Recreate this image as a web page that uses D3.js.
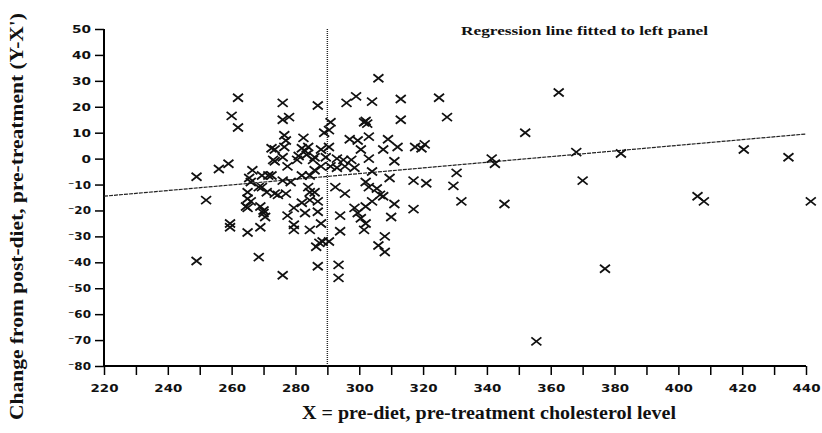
<!DOCTYPE html>
<html>
<head>
<meta charset="utf-8">
<script src="https://cdn.jsdelivr.net/npm/d3@7"></script>
<style>
  body { margin: 0; background: #fff; }
  svg { display: block; }
  .tick-label { font-family: "DejaVu Sans", sans-serif; font-weight: bold; font-size: 11px; fill: #111; }
  .title { font-family: "Liberation Serif", "Times New Roman", serif; font-weight: bold; fill: #111; }
</style>
</head>
<body>
<svg width="822" height="433"></svg>
<script>
// pre-diet, pre-treatment cholesterol (X)
const xLevel = [
  249, 252, 256, 259, 259.5, 259.5, 249, 265, 268.5, 266.5, 266, 265, 266, 265, 269.5, 269.5, 269, 270,
  270.5, 271, 273.5, 273.5, 272.5, 262, 260, 262, 276, 276, 278, 287, 289, 276.5, 277, 282.5, 272.5,
  273.5, 276.5, 282, 284, 283.5, 286, 288, 273, 276, 277.5, 286, 280.5, 285.5, 271.5, 265.5, 276,
  278.5, 282, 284.5, 268.5, 274.5, 277, 284, 284.5, 286, 265, 264.5, 269, 270, 279.5, 282, 284.5, 287,
  277.5, 283, 287, 288, 279.5, 279.5, 284.5, 286.5, 287.5, 288.5, 287, 276, 288, 281, 283,
  306, 299, 296, 304, 313, 313, 302, 302.5, 301.5, 291, 290.5, 297, 299.5, 303, 309, 307.5, 312, 317.5,
  319.5, 320.5, 300.5, 290.5, 289.5, 293, 295, 297.5, 303, 311, 291, 293, 295.5, 298.5, 304, 309.5,
  317, 321, 302, 303, 292.5, 305.5, 295.5, 306.5, 307.5, 304, 311, 298.5, 299.5, 302, 294, 317, 310,
  300.5, 302, 294, 301.5, 308, 306, 308, 290.5, 293.5, 293.5, 325, 327.5,
  330.5, 329.5, 332, 341.5, 342.5, 345.5, 352, 362.5, 368, 370, 382, 377, 355.5, 420.5, 434.5, 406, 408, 441.5
];
// change from post-diet, pre-treatment (Y-X')
const yChange = [
  -7, -16, -4, -2, -25, -26.5, -39.5, -28.5, -38, -4.5, -9, -13, -16.5, -19, -6.5, -11, -26.5, -20,
  -22.5, -13, -13.5, -1, -6.5, 23.5, 16.5, 12, 21.5, 15, 16, 20.5, 10, 9, 7, 8, 4,
  3.5, 4.5, 4, 4.5, 1.5, 0.5, 3.5, -0.5, 0.5, -3, -4.5, -0.5, -0.5, -6.5, -7.5, -8.5,
  -9, -6.5, -6.5, -11, -14, -13.5, -11, -13, -13, -15.5, -18.5, -18.5, -21, -19, -17, -16, -16.5,
  -22, -21, -20.5, -25, -25.5, -27.5, -27.5, -34, -32.5, -32, -41.5, -45, -3, 1, 3,
  31, 24, 21.5, 22, 23, 15, 14.5, 13.5, 14, 14, 11, 7.5, 7, 8.5, 7.5, 3.5, 4.5, 4.5,
  4, 5.5, 3.5, 4.5, 0.5, 0, -0.5, -0.5, 0, -1, -3, -3.5, -3, -3.5, -5, -7.5,
  -8.5, -9.5, -9, -11, -11, -11.5, -13.5, -14, -14.5, -16.5, -17.5, -19, -21, -18.5, -22, -19.5, -22.5,
  -23, -25, -28, -27.5, -30, -33.5, -36, -32, -41, -46, 23.5, 16,
  -5.5, -10.5, -16.5, 0, -2, -17.5, 10, 25.5, 2.5, -8.5, 2, -42.5, -70.5, 3.5, 0.5, -14.5, -16.5, -16.5
];

const xTicks = d3.range(220, 441, 10);
const xLabels = d3.range(220, 441, 20);
const yTicks = d3.range(-80, 51, 10);

// regression line fitted to the left panel, and the cut-off at X = 290
const fitX = [220, 440];
const fitY = [-14.5, 9.5];
const cutoff = 290;

const svg = d3.select('svg');

const x = d3.scaleLinear().domain([220, 440]).range([104, 806]);
const y = d3.scaleLinear().domain([-80, 50]).range([366, 29]);

const fmt = d => d < 0 ? '\u207B' + Math.abs(d) : String(d);

// y axis
const yAxis = svg.append('g').attr('transform', `translate(${x(220)},0)`)
  .call(d3.axisLeft(y).tickValues(yTicks).tickSize(9).tickPadding(4).tickFormat(fmt));
yAxis.select('.domain').attr('d', `M0,${y(50)}V${y(-80)}`).attr('stroke-width', 2);
yAxis.selectAll('.tick line').attr('stroke-width', 1.5);
yAxis.selectAll('.tick text')
  .attr('class', 'tick-label')
  .attr('textLength', d => String(Math.abs(d)).length * 9.5 + (d < 0 ? 4 : 0))
  .attr('lengthAdjust', 'spacingAndGlyphs');

// x axis
const xAxis = svg.append('g').attr('transform', `translate(0,${y(-80)})`)
  .call(d3.axisBottom(x).tickValues(xTicks).tickSize(9).tickPadding(9)
    .tickFormat(d => xLabels.includes(d) ? d : ''));
xAxis.select('.domain').attr('d', `M${x(220)},0H${x(440)}`).attr('stroke-width', 2);
xAxis.selectAll('.tick line').attr('stroke-width', 1.5);
xAxis.selectAll('.tick text')
  .attr('class', 'tick-label')
  .attr('textLength', d => xLabels.includes(d) ? 28 : null)
  .attr('lengthAdjust', 'spacingAndGlyphs');
svg.selectAll('.domain').attr('stroke', '#000');

// vertical cut-off line
svg.append('line')
  .attr('x1', x(cutoff)).attr('x2', x(cutoff))
  .attr('y1', y(50)).attr('y2', y(-80))
  .attr('stroke', '#222').attr('stroke-width', 1.4).attr('stroke-dasharray', '1,1');

// regression line
svg.append('path')
  .datum(fitX.map((v, i) => [v, fitY[i]]))
  .attr('d', d3.line().x(d => x(d[0])).y(d => y(d[1])))
  .attr('fill', 'none').attr('stroke', '#222').attr('stroke-width', 1.2)
  .attr('stroke-dasharray', '4,1');

// points as crosses
svg.append('g').selectAll('path')
  .data(xLevel.map((v, i) => [v, yChange[i]]))
  .join('path')
  .attr('transform', d => `translate(${x(d[0])},${y(d[1])})`)
  .attr('d', 'M-5,-4L5,4M-5,4L5,-4')
  .attr('stroke', '#111').attr('stroke-width', 1.8).attr('fill', 'none');

// titles
svg.append('text').attr('class', 'title')
  .attr('x', 461).attr('y', 35).attr('font-size', 13)
  .attr('textLength', 247).attr('lengthAdjust', 'spacingAndGlyphs')
  .text('Regression line fitted to left panel');

svg.append('text').attr('class', 'title')
  .attr('x', 302).attr('y', 419).attr('font-size', 18)
  .attr('textLength', 374).attr('lengthAdjust', 'spacingAndGlyphs')
  .text('X = pre-diet, pre-treatment cholesterol level');

svg.append('text').attr('class', 'title')
  .attr('transform', 'translate(23,420) rotate(-90)')
  .attr('font-size', 18)
  .attr('textLength', 407).attr('lengthAdjust', 'spacingAndGlyphs')
  .text("Change from post-diet, pre-treatment (Y-X')");
</script>
</body>
</html>
